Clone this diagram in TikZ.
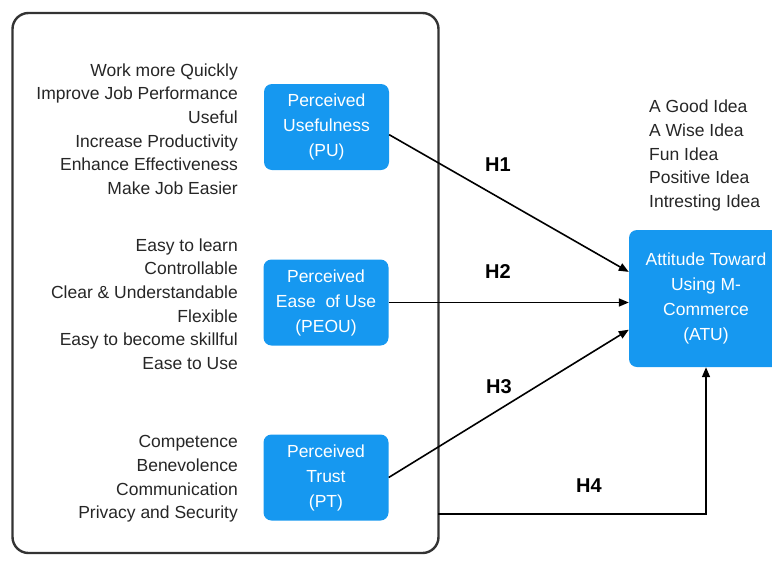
\documentclass[tikz,border=0pt]{standalone}
\usepackage{fontspec}
\setmainfont{Liberation Sans}
\usetikzlibrary{arrows.meta}
\definecolor{blx}{RGB}{22,152,240}
\colorlet{frx}{black!80}
\colorlet{txx}{black!85}
\tikzset{
    cstr/.style={fill=blx,text=white,rounded corners=8pt,inner sep=2pt,
        minimum width=125pt,minimum height=86pt,align=center,
        font=\fontsize{17.5}{25}\selectfont},
    items/.style={txx,inner sep=0pt,font=\fontsize{17.5}{23.6}\selectfont},
    hyp/.style={font=\fontsize{20}{24}\selectfont\bfseries},
    link/.style={line width=1.6pt,-{Triangle[length=10pt,width=8pt]}}
}
\begin{document}
\begin{tikzpicture}[x=1pt,y=-1pt]
    \useasboundingbox (0,0) rectangle (772,563);
    % outer frame
    \node [draw=frx,line width=2.4pt,rounded corners=16pt,
        minimum width=426pt,minimum height=540pt] (frame) at (225.5,283) {};
    % constructs
    \node [cstr] (pu) at (326.5,127) {Perceived\\Usefulness\\(PU)};
    \node [cstr] (peou) at (326,302.5) {Perceived\\Ease~ of Use\\(PEOU)};
    \node [cstr] (pt) at (326,477.5) {Perceived\\Trust\\(PT)};
    \node [cstr,minimum width=154pt,minimum height=137pt] (atu) at (706,298.5)
        {Attitude Toward\\Using M-\\Commerce\\(ATU)};
    % items
    \node [items,align=right,anchor=east] (puitems) at (238,129)
        {Work more Quickly\\Improve Job Performance\\Useful\\Increase Productivity\\Enhance Effectiveness\\Make Job Easier};
    \node [items,align=right,anchor=east] (peouitems) at (238,304)
        {Easy to learn\\Controllable\\Clear \& Understandable\\Flexible\\Easy to become skillful\\Ease to Use};
    \node [items,align=right,anchor=east] (ptitems) at (238,479)
        {Competence\\Benevolence\\Communication\\Privacy and Security};
    \node [items,align=left,anchor=west] (atuitems) at (649,155.5)
        {A Good Idea\\A Wise Idea\\Fun Idea\\Positive Idea\\Intresting Idea};
    % hypotheses
    \draw [link] (pu.-7) -- (atu.161.7);
    \draw [link] (peou.east) -- (atu.west |- peou.east);
    \draw [link] (pt.east) -- (atu.202);
    \coordinate (h4start) at (438,514);
    \draw [link] (h4start) -| (atu.south);
    \node [hyp] (h1) at (498,165) {H1};
    \node [hyp] (h2) at (498,272) {H2};
    \node [hyp] (h3) at (499,387) {H3};
    \node [hyp] (h4) at (589,486) {H4};
\end{tikzpicture}
\end{document}
